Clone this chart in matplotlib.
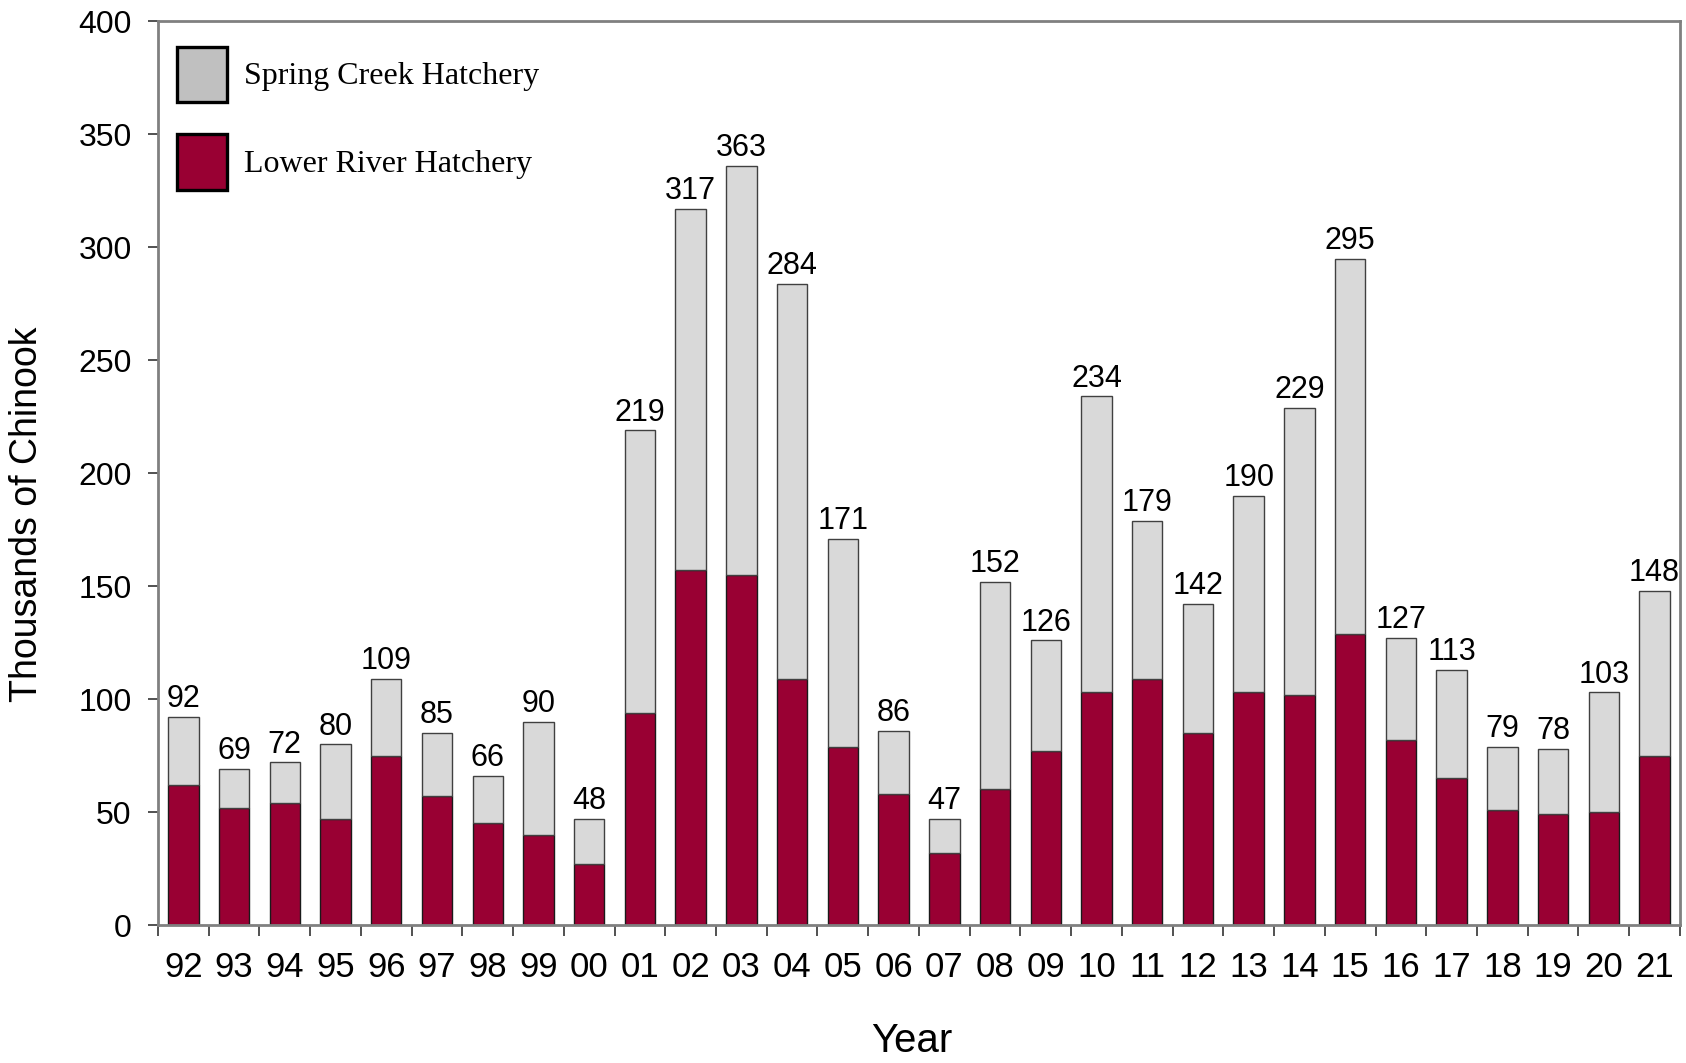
import matplotlib
matplotlib.use("Agg")
import matplotlib.pyplot as plt
from matplotlib.patches import Patch
import numpy as np

years = ["92", "93", "94", "95", "96", "97", "98", "99", "00", "01",
         "02", "03", "04", "05", "06", "07", "08", "09", "10", "11",
         "12", "13", "14", "15", "16", "17", "18", "19", "20", "21"]
lower_river = [62, 52, 54, 47, 75, 57, 45, 40, 27, 94,
               157, 155, 109, 79, 58, 32, 60, 77, 103, 109,
               85, 103, 102, 129, 82, 65, 51, 49, 50, 75]
spring_creek = [30, 17, 18, 33, 34, 28, 21, 50, 20, 125,
                160, 181, 175, 92, 28, 15, 92, 49, 131, 70,
                57, 87, 127, 166, 45, 48, 28, 29, 53, 73]
total_labels = ["92", "69", "72", "80", "109", "85", "66", "90", "48", "219",
                "317", "363", "284", "171", "86", "47", "152", "126", "234", "179",
                "142", "190", "229", "295", "127", "113", "79", "78", "103", "148"]

red = "#990033"
gray = "#D9D9D9"

fig = plt.figure(figsize=(16.86, 10.63), dpi=100)
ax = fig.add_axes([0.0937, 0.1298, 0.9027, 0.85])

x = np.arange(len(years))
ax.bar(x, lower_river, width=0.6, color=red, edgecolor="#1a1a1a", linewidth=1)
top = ax.bar(x, spring_creek, width=0.6, bottom=lower_river, color=gray,
             edgecolor="#404040", linewidth=1)

# total on top of each stack
for rect, lab in zip(top, total_labels):
    ax.annotate(lab, (rect.get_x() + rect.get_width() / 2, rect.get_y() + rect.get_height()),
                xytext=(0, 2), textcoords="offset points", ha="center", va="bottom",
                fontsize=22, family="Liberation Sans")

ax.set_xlim(-0.5, len(years) - 0.5)
ax.set_ylim(0, 400)
ax.set_yticks(range(0, 401, 50))
ax.set_xticks(x)
ax.set_xticklabels(years)
ax.set_xticks(np.arange(-0.5, len(years), 1), minor=True)
ax.tick_params(axis="x", which="major", length=0, pad=19, labelsize=25)
ax.tick_params(axis="x", which="minor", length=8, width=1.2, color="#333333")
ax.tick_params(axis="y", length=7, width=1.2, color="#333333", pad=12, labelsize=23)
for lbl in ax.get_xticklabels() + ax.get_yticklabels():
    lbl.set_family("Liberation Sans")

for s in ax.spines.values():
    s.set_color("#808080")
    s.set_linewidth(2)

ax.set_ylabel("Thousands of Chinook", fontsize=27, family="Liberation Sans", va="center")
ax.yaxis.set_label_coords(-0.086, 0.455)
ax.set_xlabel("Year", fontsize=29, family="Liberation Sans", va="center")
ax.xaxis.set_label_coords(0.495, -0.128)

handles = [Patch(facecolor="#C0C0C0", edgecolor="black", linewidth=2.4),
           Patch(facecolor=red, edgecolor="black", linewidth=2.4)]
ax.legend(handles, ["Spring Creek Hatchery", "Lower River Hatchery"],
          loc="upper left", bbox_to_anchor=(0.0125, 0.972), frameon=False,
          borderaxespad=0, borderpad=0, handlelength=1.55, handleheight=2.3,
          handletextpad=0.55, labelspacing=1.0,
          prop={"family": "Liberation Serif", "size": 23})

fig.savefig("out.png", dpi=100)
